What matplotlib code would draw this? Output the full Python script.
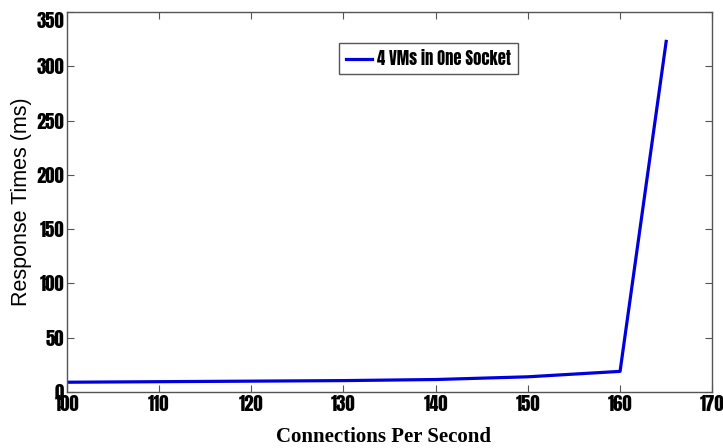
import matplotlib
matplotlib.use("Agg")
import matplotlib.pyplot as plt
from matplotlib import font_manager

# Connections per second vs. response time
cps = [100, 110, 120, 130, 140, 150, 160, 165]
resp_ms = [9, 9.5, 10, 10.5, 11.5, 14, 19, 323]
series_label = "4 VMs in One Socket"
xticks = [100, 110, 120, 130, 140, 150, 160, 170]
yticks = [0, 50, 100, 150, 200, 250, 300, 350]

names = {f.name for f in font_manager.fontManager.ttflist}


def pick(*cands):
    for c in cands:
        if c in names:
            return c
    return "DejaVu Sans"


narrow = pick("Anton", "Antonio", "Oswald", "Fjalla One", "Archivo Narrow")
sans = pick("Liberation Sans", "Arimo")
serif = pick("Liberation Serif", "Tinos")

fig = plt.figure(figsize=(7.23, 4.48), dpi=100)
ax = fig.add_axes([0.0922, 0.125, 0.893, 0.848])
ax.plot(cps, resp_ms, color="#0000dd", lw=2.3, label=series_label)

ax.set_xlim(100, 170)
ax.set_ylim(0, 350)
ax.set_xticks(xticks)
ax.set_yticks(yticks)
ax.tick_params(direction="in", length=5, color="#555555", top=True, right=True,
               labelsize=13.5, pad=2)
for lab in ax.get_xticklabels() + ax.get_yticklabels():
    lab.set_fontfamily(narrow)
# keep the top y label inside the figure
ax.get_yticklabels()[-1].set_verticalalignment("top")
for s in ax.spines.values():
    s.set_color("#555555")
    s.set_linewidth(1.0)

ax.set_ylabel("Response Times (ms)", fontsize=15.5, fontfamily=sans)
ax.yaxis.set_label_coords(-0.054, 0.5)
ax.set_xlabel("Connections Per Second", fontsize=15, fontfamily=serif,
              fontweight="bold")
ax.xaxis.set_label_coords(0.4909, -0.093)

leg = ax.legend(loc="upper left", bbox_to_anchor=(0.422, 0.918), borderaxespad=0,
                fancybox=False, edgecolor="#555555", framealpha=1,
                handlelength=1.6, handletextpad=0.3, borderpad=0.4,
                prop={"family": narrow, "size": 12})
leg.get_frame().set_linewidth(1.0)

fig.savefig("out.png", dpi=100)
